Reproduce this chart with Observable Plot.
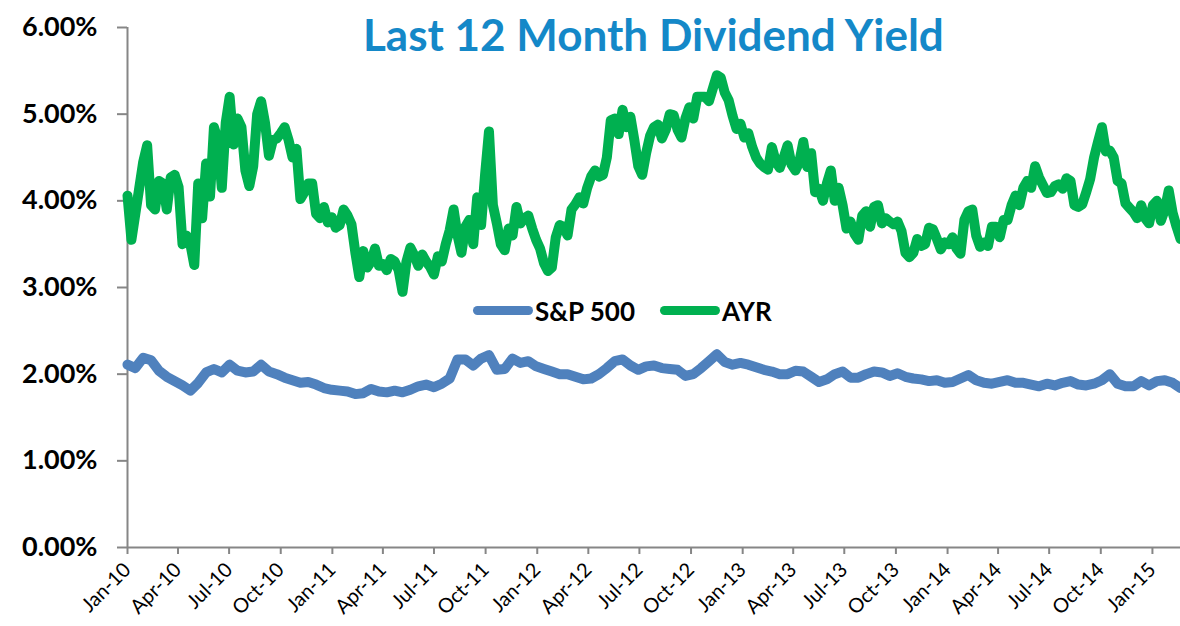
<!DOCTYPE html>
<html><head><meta charset="utf-8">
<script src="https://cdn.jsdelivr.net/npm/d3@7"></script>
<script src="https://cdn.jsdelivr.net/npm/@observablehq/plot@0.6"></script>
<style>
body{margin:0;background:#fff;}
#wrap{position:relative;width:1180px;height:626px;overflow:hidden;font-family:Lato,"Open Sans",sans-serif;}
#chart{position:absolute;left:0;top:0;}
#title{position:absolute;left:363px;top:12px;font-size:44px;font-weight:700;color:#1488C8;white-space:nowrap;line-height:1;}
.lg{position:absolute;font-size:26px;font-weight:700;color:#000;line-height:1;white-space:nowrap;top:298px;}
.sw{position:absolute;width:60px;height:9px;border-radius:4.5px;top:306px;}
</style></head><body>
<div id="wrap">
<div id="chart"></div>
<div id="title">Last 12 Month Dividend Yield</div>
<div class="sw" id="sw0" style="left:473px;"></div><div class="lg" id="lg0" style="left:535px;"></div>
<div class="sw" id="sw1" style="left:660px;"></div><div class="lg" id="lg1" style="left:722px;"></div>
</div>
<script>
const startDate = "2010-01-01";
const seriesNames = ["S&P 500", "AYR"];
const seriesColors = ["#4F81BD", "#00B050"];
// AYR trailing 12-month yield (%), weekly from startDate
const ayrWeekly = [
4.06,3.55,3.85,4.15,4.45,4.64,3.95,3.9,4.23,4.2,
3.9,4.27,4.3,4.16,3.5,3.6,3.5,3.26,4.2,3.8,
4.43,4.05,4.85,4.7,4.15,4.9,5.2,4.65,4.95,4.85,
4.35,4.17,4.4,5.0,5.15,4.9,4.52,4.7,4.72,4.78,
4.85,4.7,4.5,4.6,4.02,4.1,4.2,4.2,3.85,3.8,
3.93,3.75,3.81,3.69,3.72,3.9,3.83,3.73,3.4,3.12,
3.42,3.23,3.3,3.45,3.25,3.27,3.2,3.33,3.3,3.2,
2.95,3.3,3.46,3.37,3.25,3.38,3.3,3.24,3.15,3.36,
3.3,3.5,3.66,3.9,3.6,3.4,3.7,3.78,3.5,4.04,
3.72,4.3,4.8,3.95,3.74,3.5,3.43,3.68,3.6,3.93,
3.74,3.8,3.83,3.68,3.55,3.45,3.28,3.19,3.23,3.58,
3.72,3.7,3.6,3.9,3.96,4.04,3.97,4.15,4.28,4.35,
4.28,4.3,4.5,4.93,4.95,4.77,5.05,4.85,4.97,4.7,
4.4,4.3,4.55,4.75,4.85,4.88,4.72,4.82,5.0,4.99,
4.82,4.73,4.95,5.08,4.95,5.2,5.2,5.2,5.15,5.3,
5.45,5.42,5.25,5.16,4.98,4.83,4.89,4.73,4.78,4.62,
4.5,4.43,4.39,4.36,4.62,4.45,4.38,4.5,4.64,4.42,
4.35,4.45,4.68,4.39,4.55,4.1,4.14,4.0,4.2,4.35,
4.0,4.15,3.95,3.68,3.76,3.62,3.55,3.83,3.88,3.7,
3.93,3.95,3.74,3.8,3.76,3.73,3.76,3.65,3.4,3.35,
3.4,3.56,3.48,3.5,3.69,3.67,3.56,3.44,3.52,3.5,
3.58,3.45,3.39,3.78,3.88,3.9,3.6,3.47,3.52,3.48,
3.7,3.7,3.58,3.78,3.78,3.95,4.06,3.95,4.15,4.23,
4.15,4.4,4.27,4.18,4.09,4.1,4.17,4.19,4.14,4.26,
4.23,3.95,3.93,3.96,4.1,4.25,4.5,4.68,4.85,4.57,
4.58,4.5,4.23,4.2,3.97,3.92,3.87,3.8,3.95,3.8,
3.74,3.95,4.0,3.77,3.9,4.12,3.86,3.7,3.56
];
// S&P 500 trailing 12-month yield (%), every two weeks from startDate
const spxBiweekly = [
2.11,2.07,2.19,2.16,2.04,1.97,1.92,1.87,1.81,1.9,
2.02,2.06,2.02,2.11,2.04,2.02,2.03,2.11,2.03,2.0,
1.96,1.93,1.9,1.91,1.88,1.84,1.82,1.81,1.8,1.77,
1.78,1.83,1.8,1.79,1.81,1.79,1.82,1.86,1.88,1.85,
1.89,1.95,2.17,2.17,2.1,2.18,2.22,2.05,2.06,2.18,
2.13,2.15,2.09,2.06,2.03,2.0,2.0,1.97,1.94,1.95,
2.0,2.07,2.15,2.17,2.1,2.05,2.09,2.1,2.07,2.06,
2.05,1.98,2.0,2.07,2.15,2.23,2.14,2.11,2.13,2.11,
2.08,2.05,2.03,2.0,2.0,2.04,2.03,1.97,1.91,1.94,
2.0,2.03,1.96,1.96,2.0,2.03,2.02,1.98,2.01,1.97,
1.95,1.94,1.92,1.93,1.9,1.91,1.95,1.99,1.93,1.9,
1.89,1.91,1.93,1.9,1.9,1.88,1.86,1.89,1.87,1.9,
1.92,1.88,1.87,1.89,1.93,2.0,1.89,1.86,1.86,1.92,
1.87,1.92,1.93,1.9,1.84
];
const xTickLabels = ["Jan-10","Apr-10","Jul-10","Oct-10","Jan-11","Apr-11","Jul-11","Oct-11",
"Jan-12","Apr-12","Jul-12","Oct-12","Jan-13","Apr-13","Jul-13","Oct-13",
"Jan-14","Apr-14","Jul-14","Oct-14","Jan-15"];
const yTickValues = [0,1,2,3,4,5,6];

const start = new Date(startDate + "T00:00:00Z");
const parseTick = d3.utcParse("%b-%y");
const fmtTick = d3.utcFormat("%b-%y");
const ayr = ayrWeekly.map((v,i) => ({date: d3.utcDay.offset(start, 7*i), value: v}));
const spx = spxBiweekly.map((v,i) => ({date: d3.utcDay.offset(start, 14*i), value: v}));
const endDate = ayr[ayr.length-1].date;
const axisGray = "#868686";

const chart = Plot.plot({
  width: 1180, height: 626,
  marginLeft: 127, marginRight: 0, marginTop: 27, marginBottom: 79,
  style: {fontFamily: "Lato, 'Open Sans', sans-serif", background: "white", overflow: "hidden"},
  x: {type: "utc", domain: [start, endDate]},
  y: {domain: [0, 6]},
  marks: [
    Plot.axisY({ticks: yTickValues, tickFormat: d => d.toFixed(2) + "%", tickSize: 10, tickPadding: 20,
      stroke: axisGray, strokeWidth: 2, fill: "#000", fontSize: 27, fontWeight: "bold", label: null}),
    Plot.axisX({ticks: xTickLabels.map(parseTick), tickFormat: fmtTick, tickRotate: -45,
      tickSize: 7, tickPadding: 12, stroke: axisGray, strokeWidth: 2, fill: "#000", fontSize: 20, label: null}),
    Plot.ruleX([start], {stroke: axisGray, strokeWidth: 2}),
    Plot.ruleY([0], {stroke: axisGray, strokeWidth: 2}),
    Plot.line(spx, {x: "date", y: "value", stroke: seriesColors[0], strokeWidth: 10,
      strokeLinejoin: "round", strokeLinecap: "round"}),
    Plot.line(ayr, {x: "date", y: "value", stroke: seriesColors[1], strokeWidth: 10,
      strokeLinejoin: "round", strokeLinecap: "round"})
  ]
});
document.getElementById("chart").appendChild(chart);
seriesNames.forEach((n,i) => {
  document.getElementById("lg"+i).textContent = n;
  document.getElementById("sw"+i).style.background = seriesColors[i];
});
</script>
</body></html>
